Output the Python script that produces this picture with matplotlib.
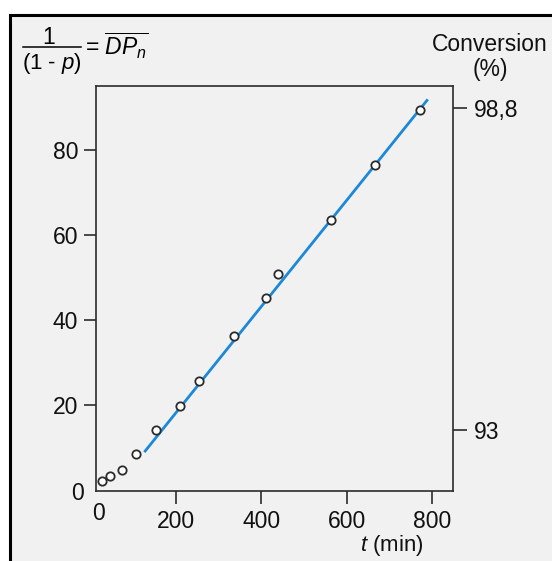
import matplotlib
matplotlib.use('Agg')
import matplotlib.pyplot as plt
import matplotlib.patches as patches
from matplotlib.lines import Line2D

plt.rcParams['font.family'] = ['Liberation Sans', 'DejaVu Sans']
plt.rcParams['mathtext.fontset'] = 'custom'
plt.rcParams['mathtext.rm'] = 'Liberation Sans'
plt.rcParams['mathtext.it'] = 'Liberation Sans:italic'

# measured points: time (min) vs 1/(1-p)
t_min = [26, 46, 74, 107, 154, 209, 254, 335, 411, 439, 562, 665, 770]
dp_n = [2.1, 3.3, 4.7, 8.5, 14.1, 19.8, 25.6, 36.3, 45.2, 50.9, 63.5, 76.5, 89.5]

# fitted straight line (end points)
fit_t = [128, 787]
fit_dp = [9.2, 91.7]

x_ticks = [200, 400, 600, 800]
y_ticks = [20, 40, 60, 80]
conv_pos = [89.9, 14.1]
conv_labels = ['98,8', '93']

FS = 16.5
DARK = '#2b2b2b'
TXT = '#111111'
BLUE = '#1d88d6'

fig = plt.figure(figsize=(5.52, 5.61), dpi=100)
fig.patch.set_facecolor('white')

# outer frame (cut at right and bottom)
frame = patches.Rectangle((10 / 552, -0.1), 1.2, 1.1 - 15 / 561,
                          transform=fig.transFigure, facecolor='#f1f1f1',
                          edgecolor='black', linewidth=2.2, zorder=-10)
fig.patches.append(frame)

ax = fig.add_axes([96 / 552, 1 - 491 / 561, 357 / 552, 405 / 561])
ax.set_facecolor('none')

ax.plot(fit_t, fit_dp, color=BLUE, linewidth=2.0, zorder=2)
ax.plot(t_min, dp_n, 'o', markersize=6, markerfacecolor='white',
        markeredgecolor=DARK, markeredgewidth=1.3, zorder=3)

ax.set_xlim(13, 848)
ax.set_ylim(-0.2, 95.1)

for s in ax.spines.values():
    s.set_color(DARK)
    s.set_linewidth(1.2)

ax.set_xticks(x_ticks)
ax.set_yticks(y_ticks)
ax.tick_params(axis='x', direction='out', length=9.4, width=1.2, color=DARK,
               pad=4.2, labelsize=FS, labelcolor=TXT)
ax.tick_params(axis='y', direction='out', length=8.6, width=1.2, color=DARK,
               pad=4.3, labelsize=FS, labelcolor=TXT)

# zero labels without tick marks
ax.annotate('0', xy=(0, 0), xycoords='axes fraction', xytext=(2, -8),
            textcoords='offset points', ha='center', va='top', fontsize=FS,
            color=TXT)
ax.annotate('0', xy=(0, 0), xycoords='axes fraction', xytext=(-9, -2),
            textcoords='offset points', ha='right', va='center', fontsize=FS,
            color=TXT)

ax2 = ax.twinx()
ax2.set_ylim(ax.get_ylim())
ax2.set_yticks(conv_pos)
ax2.set_yticklabels(conv_labels)
ax2.tick_params(axis='y', direction='out', length=10, width=1.2, color=DARK,
                pad=5, labelsize=FS, labelcolor=TXT)
for s in ax2.spines.values():
    s.set_visible(False)

ax.set_xlabel(r'$t$ (min)', fontsize=16, color=TXT)
ax.xaxis.set_label_coords((392 - 96) / 357, -(533 - 491) / 405)

# y-axis heading: 1/(1-p) = DP_n
fig.text(49 / 552, 1 - 37 / 561, '1', ha='center', va='center', fontsize=FS)
fig.lines.append(Line2D([23 / 552, 81 / 552], [1 - 47 / 561, 1 - 47 / 561],
                        transform=fig.transFigure, color='black', linewidth=1.1))
fig.text(52 / 552, 1 - 63 / 561, r'(1 - $p$)', ha='center', va='center', fontsize=16)
fig.text(85 / 552, 1 - 46 / 561, r'= $\overline{DP_n}$', ha='left', va='center',
         fontsize=FS)

fig.text(490 / 552, 1 - 57 / 561, 'Conversion\n(%)', ha='center', va='center',
         fontsize=FS, linespacing=1.15, color=TXT)

fig.savefig('out.png', dpi=100, facecolor=fig.get_facecolor())
